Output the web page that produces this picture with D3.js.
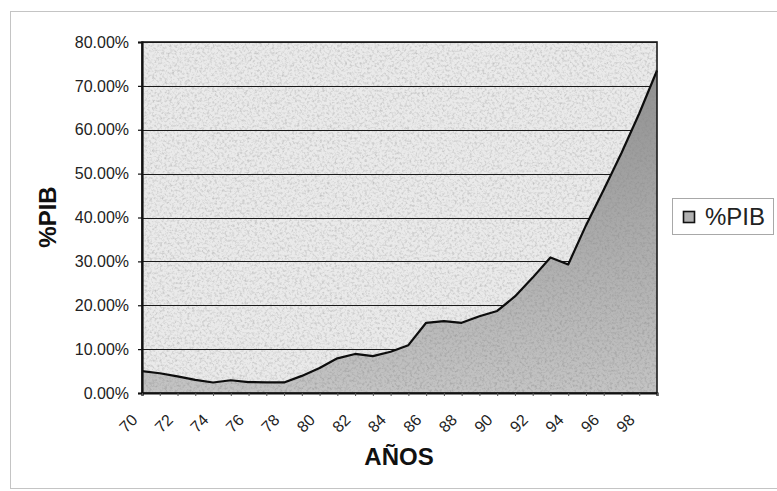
<!DOCTYPE html>
<html>
<head>
<meta charset="utf-8">
<script src="https://cdn.jsdelivr.net/npm/d3@7"></script>
<style>
  html, body { margin: 0; padding: 0; background: #fff; }
  svg { display: block; font-family: "Liberation Sans", Arial, sans-serif; }
</style>
</head>
<body>
<svg id="chart" width="777" height="491"></svg>
<script>
// Años (1970–1999) y deuda como porcentaje del PIB
const years = [70, 71, 72, 73, 74, 75, 76, 77, 78, 79,
               80, 81, 82, 83, 84, 85, 86, 87, 88, 89,
               90, 91, 92, 93, 94, 95, 96, 97, 98, 99];
const pib = [0.050, 0.045, 0.038, 0.030, 0.024, 0.029, 0.025, 0.024, 0.024, 0.039,
             0.057, 0.079, 0.089, 0.084, 0.094, 0.109, 0.160, 0.164, 0.160, 0.175,
             0.187, 0.220, 0.263, 0.309, 0.293, 0.382, 0.463, 0.547, 0.637, 0.735];
const yTicks = [0, 0.1, 0.2, 0.3, 0.4, 0.5, 0.6, 0.7, 0.8];
const seriesName = "%PIB";
const xTitle = "AÑOS";
const yTitle = "%PIB";

const svg = d3.select("#chart");
const plot = { left: 142, top: 42, right: 657, bottom: 393 };

const x = d3.scalePoint().domain(years).range([plot.left, plot.right]);
const y = d3.scaleLinear().domain([0, 0.8]).range([plot.bottom, plot.top]);

const defs = svg.append("defs");

// grainy texture used on the plot background and the area
const grain = defs.append("filter").attr("id", "grain")
  .attr("x", 0).attr("y", 0).attr("width", 1).attr("height", 1);
grain.append("feTurbulence").attr("type", "fractalNoise")
  .attr("baseFrequency", 0.4).attr("numOctaves", 4).attr("seed", 7).attr("result", "n");
grain.append("feColorMatrix").attr("type", "matrix")
  .attr("values", "0 0 0 0 0.25  0 0 0 0 0.25  0 0 0 0 0.25  2.2 0 0 0 -0.98");

const areaGrad = defs.append("linearGradient").attr("id", "areaGrad")
  .attr("gradientUnits", "userSpaceOnUse")
  .attr("x1", 0).attr("x2", 0).attr("y1", plot.top + 30).attr("y2", plot.bottom);
areaGrad.append("stop").attr("offset", 0).attr("stop-color", "#919191");
areaGrad.append("stop").attr("offset", 1).attr("stop-color", "#c4c4c4");

defs.append("clipPath").attr("id", "plotClip").append("rect")
  .attr("x", plot.left).attr("y", plot.top)
  .attr("width", plot.right - plot.left).attr("height", plot.bottom - plot.top);

// outer chart frame
svg.append("rect")
  .attr("x", 10.5).attr("y", 11.5).attr("width", 820).attr("height", 477)
  .attr("fill", "none").attr("stroke", "#c4c4c4").attr("stroke-width", 1);

// plot background
svg.append("rect")
  .attr("x", plot.left).attr("y", plot.top)
  .attr("width", plot.right - plot.left).attr("height", plot.bottom - plot.top)
  .attr("fill", "#eaeaea");
svg.append("rect")
  .attr("x", plot.left).attr("y", plot.top)
  .attr("width", plot.right - plot.left).attr("height", plot.bottom - plot.top)
  .attr("filter", "url(#grain)").attr("opacity", 0.4);

// horizontal gridlines
svg.append("g").selectAll("line").data(yTicks.slice(1)).join("line")
  .attr("x1", plot.left).attr("x2", plot.right)
  .attr("y1", d => Math.round(y(d)) + 0.5).attr("y2", d => Math.round(y(d)) + 0.5)
  .attr("stroke", "#1a1a1a").attr("stroke-width", 1.2);

// area
const area = d3.area().x((d, i) => x(years[i])).y0(y(0)).y1(d => y(d));
const g = svg.append("g").attr("clip-path", "url(#plotClip)");
g.append("path").datum(pib).attr("d", area).attr("fill", "url(#areaGrad)");
const mask = defs.append("clipPath").attr("id", "areaClip");
mask.append("path").datum(pib).attr("d", area);
g.append("rect")
  .attr("x", plot.left).attr("y", plot.top)
  .attr("width", plot.right - plot.left).attr("height", plot.bottom - plot.top)
  .attr("clip-path", "url(#areaClip)")
  .attr("filter", "url(#grain)").attr("opacity", 0.5);

// top edge of the area
const line = d3.line().x((d, i) => x(years[i])).y(d => y(d));
svg.append("path").datum(pib).attr("d", line)
  .attr("fill", "none").attr("stroke", "#0d0d0d").attr("stroke-width", 2.2)
  .attr("stroke-linejoin", "round");

// plot border
svg.append("rect")
  .attr("x", plot.left).attr("y", plot.top)
  .attr("width", plot.right - plot.left).attr("height", plot.bottom - plot.top)
  .attr("fill", "none").attr("stroke", "#1a1a1a").attr("stroke-width", 1.6);

// y axis
const yAxis = svg.append("g").attr("transform", `translate(${plot.left},0)`)
  .call(d3.axisLeft(y).tickValues(yTicks).tickFormat(d3.format(".2%")).tickSize(4).tickPadding(9));
yAxis.select(".domain").attr("stroke", "#111").attr("stroke-width", 2.2);
yAxis.selectAll(".tick line").attr("stroke", "#111").attr("stroke-width", 1.2);
yAxis.selectAll("text").attr("font-size", 16).attr("fill", "#222")
  .attr("font-family", "'Liberation Sans', Arial, sans-serif");

// x axis
const xAxis = svg.append("g").attr("transform", `translate(0,${plot.bottom})`)
  .call(d3.axisBottom(x).tickSize(3).tickFormat(d => d % 2 === 0 ? d : ""));
xAxis.select(".domain").attr("stroke", "#111").attr("stroke-width", 2.2);
xAxis.selectAll(".tick line").attr("stroke", "#555").attr("stroke-width", 1);
xAxis.selectAll("text")
  .attr("font-size", 16).attr("fill", "#222")
  .attr("font-family", "'Liberation Sans', Arial, sans-serif")
  .attr("text-anchor", "end")
  .attr("dy", "0.35em").attr("y", 0)
  .attr("transform", "translate(-8,24) rotate(-45)");

// axis titles
svg.append("text").attr("x", 399).attr("y", 465)
  .attr("text-anchor", "middle").attr("font-size", 24).attr("font-weight", "bold")
  .attr("fill", "#111").text(xTitle);
svg.append("text").attr("transform", "translate(56,217) rotate(-90)")
  .attr("text-anchor", "middle").attr("font-size", 24).attr("font-weight", "bold")
  .attr("fill", "#111").text(yTitle);

// legend
const lg = svg.append("g");
lg.append("rect").attr("x", 672.5).attr("y", 198.5).attr("width", 101).attr("height", 36)
  .attr("fill", "#fff").attr("stroke", "#a8a8a8").attr("stroke-width", 1);
lg.append("rect").attr("x", 683.5).attr("y", 211.5).attr("width", 11).attr("height", 11)
  .attr("fill", "#b0b0b0").attr("stroke", "#111").attr("stroke-width", 1.6);
lg.append("text").attr("x", 705).attr("y", 225)
  .attr("font-size", 24).attr("fill", "#222").text(seriesName);
</script>
</body>
</html>
